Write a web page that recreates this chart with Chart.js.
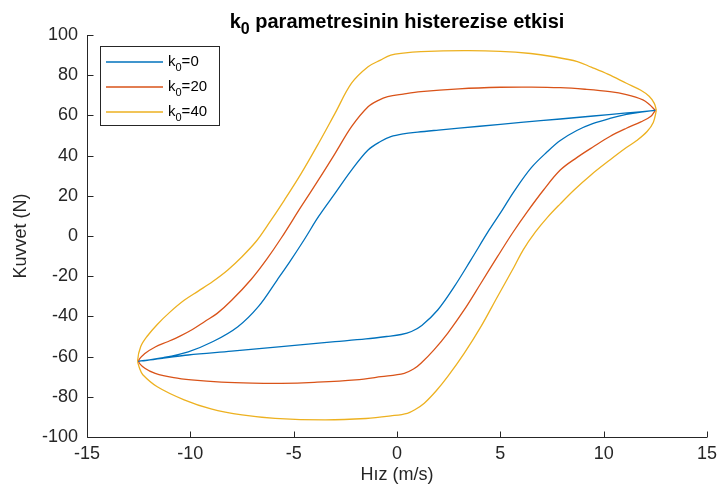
<!DOCTYPE html>
<html lang="tr">
<head>
    <meta charset="UTF-8">
    <title>k0 parametresinin histerezise etkisi</title>
    <script src="https://cdn.jsdelivr.net/npm/chart.js"></script>
    <style>
        body { margin: 0; background: #ffffff; }
        .chart-box { width: 717px; height: 493px; }
    </style>
</head>
<body>
    <div class="chart-box">
        <canvas id="hysteresisChart"></canvas>
    </div>

    <script>
        // Loop paths: right tip -> upper branch -> left tip -> lower branch
        const velK0 = [12.5, 11, 9.5, 7.9, 6, 4, 2, 1, 0.3, -0.3, -0.8, -1.4, -2.2, -3.0, -3.8, -4.5, -5.2, -5.8, -6.7, -7.7, -8.9, -10.1, -11.3, -12.5,
            -11.3, -10.1, -8, -5.6, -3, -1.5, -0.5, 0.2, 0.7, 1.2, 1.97, 2.77, 3.57, 4.46, 5.1, 5.65, 6.5, 7.28, 7.9, 8.7, 9.5, 10.3, 11.1, 11.8, 12.5];
        const forceK0 = [62.5, 61.1, 59.7, 58.2, 56.5, 54.6, 52.7, 51.7, 50.8, 49.4, 47.0, 42.8, 32.8, 21.2, 9.6, -2, -13, -21.9, -35, -45.1, -52.5, -57.6, -60.5, -62.3,
            -60.8, -59.2, -57.3, -55, -52.6, -51.2, -50, -49, -47.5, -44.5, -36.8, -25.2, -12, 3, 13, 22, 34, 42, 47.5, 52.5, 56, 58.5, 60.5, 61.6, 62.5];

        const velK20 = [12.5, 12.2, 11.9, 11.1, 10.3, 9.1, 7.9, 6.5, 5, 3, 1.16, 0.3, -0.45, -0.9, -1.4, -2.2, -3.0, -3.8, -4.64, -5.6, -6.3, -7.05, -8.0, -8.7, -9.3, -9.9, -10.5, -11.1, -11.7, -12.2, -12.5,
            -12.2, -11.7, -10.8, -9.95, -8.5, -7, -5.6, -4, -2, -0.77, 0.35, 0.8, 1.16, 1.8, 2.45, 3.25, 4.06, 4.86, 5.59, 6.3, 7.1, 7.9, 8.7, 9.5, 10.3, 11.1, 11.8, 12.27, 12.5];
        const forceK20 = [62.5, 65.5, 67.7, 70.3, 71.8, 73.0, 73.8, 74.1, 74.0, 73.2, 71.8, 70.6, 69.3, 67.5, 64.3, 54.4, 41, 27.9, 14.6, -1, -11.5, -21.5, -32, -38.5, -42.5, -46.5, -49.8, -52.6, -55.2, -58.5, -62.3,
            -65.8, -68.3, -70.5, -71.6, -72.7, -73.2, -73.3, -72.8, -71.6, -70, -68.3, -66.2, -63.3, -56.5, -48.4, -36.8, -23.5, -10.3, 1.5, 12, 23, 32.8, 39, 44.4, 49.5, 53.6, 56.8, 59.4, 62.5];

        const velK40 = [12.55, 12.45, 12.2, 11.8, 11.1, 10.2, 9.4, 8.73, 7.5, 6.47, 5, 3.24, 1.16, 0.3, -0.3, -0.8, -1.4, -2.2, -3.0, -3.8, -4.64, -5.44, -6.25, -6.8, -7.5, -8.2, -8.9, -9.6, -10.3, -11.0, -11.6, -12.1, -12.4, -12.55,
            -12.45, -12.3, -11.6, -10.3, -9.0, -7.5, -5.9, -3.5, -1.5, -0.3, 0.5, 0.9, 1.32, 1.9, 2.45, 3.25, 4.06, 4.86, 5.67, 6.1, 6.7, 7.3, 7.9, 8.57, 9.4, 10.3, 11.1, 11.6, 12.1, 12.4, 12.55];
        const forceK40 = [62.5, 66, 69.5, 72.5, 76, 80.5, 84, 86.8, 89.3, 90.8, 91.9, 92.2, 91.7, 91, 90, 87.5, 84.2, 76, 61, 46, 31, 18, 5.5, -2.5, -10.3, -17.0, -22.5, -27.3, -32, -38, -44, -50, -55, -62,
            -66, -69, -75, -81.5, -86, -89, -90.7, -91.5, -90.8, -89.5, -88.2, -86.2, -83.2, -77, -70, -58.4, -45.1, -30.2, -15.3, -7, 2, 9.5, 16, 22.9, 30.5, 37.8, 44, 47.5, 52, 56.5, 62.5];

        const seriesNames = ['0', '20', '40'];
        const seriesColors = ['#0072BD', '#D95319', '#EDB120'];
        const xTicks = [-15, -10, -5, 0, 5, 10, 15];
        const yTicks = [-100, -80, -60, -40, -20, 0, 20, 40, 60, 80, 100];

        const axisColor = '#262626';
        const fontFamily = '"Liberation Sans", Arial, sans-serif';

        function toPoints(xs, ys) {
            return xs.map((v, i) => ({ x: v, y: ys[i] }));
        }

        const loops = [
            toPoints(velK0, forceK0),
            toPoints(velK20, forceK20),
            toPoints(velK40, forceK40)
        ];

        // draw a run of text pieces, some lowered and smaller (subscripts)
        function drawPieces(ctx, pieces, x, y) {
            let cx = x;
            pieces.forEach(p => {
                ctx.font = p.font;
                ctx.fillText(p.text, cx, y + (p.dy || 0));
                cx += ctx.measureText(p.text).width;
            });
        }

        function piecesWidth(ctx, pieces) {
            let w = 0;
            pieces.forEach(p => {
                ctx.font = p.font;
                w += ctx.measureText(p.text).width;
            });
            return w;
        }

        // MATLAB-like axes: inward ticks, title and legend with subscripts
        const matlabDecor = {
            id: 'matlabDecor',
            afterDraw(chart) {
                const { ctx, chartArea: a, scales: { x, y } } = chart;
                ctx.save();

                ctx.strokeStyle = axisColor;
                ctx.lineWidth = 1;
                ctx.beginPath();
                const left = Math.round(a.left) + 0.5;
                const bottom = Math.round(a.bottom) + 0.5;
                ctx.moveTo(left, a.top);
                ctx.lineTo(left, bottom);
                ctx.lineTo(a.right, bottom);
                xTicks.forEach(v => {
                    const px = Math.round(x.getPixelForValue(v)) + 0.5;
                    ctx.moveTo(px, bottom);
                    ctx.lineTo(px, bottom - 6);
                });
                yTicks.forEach(v => {
                    const py = Math.round(y.getPixelForValue(v)) + 0.5;
                    ctx.moveTo(left, py);
                    ctx.lineTo(left + 6, py);
                });
                ctx.stroke();

                // title
                ctx.fillStyle = '#000000';
                ctx.textBaseline = 'alphabetic';
                ctx.textAlign = 'left';
                const titlePieces = [
                    { text: 'k', font: 'bold 20px ' + fontFamily },
                    { text: '0', font: 'bold 16px ' + fontFamily, dy: 6 },
                    { text: ' parametresinin histerezise etkisi', font: 'bold 20px ' + fontFamily }
                ];
                const tw = piecesWidth(ctx, titlePieces);
                drawPieces(ctx, titlePieces, (a.left + a.right) / 2 - tw / 2, 28);

                // legend box
                ctx.fillStyle = '#ffffff';
                ctx.fillRect(100.5, 46.5, 119, 79);
                ctx.strokeStyle = axisColor;
                ctx.lineWidth = 1;
                ctx.strokeRect(100.5, 46.5, 119, 79);
                seriesNames.forEach((name, i) => {
                    const ly = 62 + i * 25;
                    ctx.strokeStyle = seriesColors[i];
                    ctx.lineWidth = 1.3;
                    ctx.beginPath();
                    ctx.moveTo(106, ly);
                    ctx.lineTo(163, ly);
                    ctx.stroke();
                    ctx.fillStyle = '#000000';
                    drawPieces(ctx, [
                        { text: 'k', font: '15px ' + fontFamily },
                        { text: '0', font: '11px ' + fontFamily, dy: 5 },
                        { text: '=' + name, font: '15px ' + fontFamily }
                    ], 168, ly + 4);
                });

                ctx.restore();
            }
        };

        function initializeHysteresisChart() {
            const ctx = document.getElementById('hysteresisChart').getContext('2d');
            new Chart(ctx, {
                type: 'scatter',
                data: {
                    datasets: loops.map((pts, i) => ({
                        label: 'k0=' + seriesNames[i],
                        data: pts,
                        showLine: true,
                        borderColor: seriesColors[i],
                        backgroundColor: seriesColors[i],
                        borderWidth: 1.3,
                        pointRadius: 0,
                        tension: 0.35,
                        fill: false
                    }))
                },
                options: {
                    responsive: true,
                    maintainAspectRatio: false,
                    animation: false,
                    layout: {
                        padding: { top: 35, right: 10, left: 0, bottom: 0 }
                    },
                    plugins: {
                        legend: { display: false },
                        title: { display: false },
                        tooltip: { enabled: false }
                    },
                    scales: {
                        x: {
                            type: 'linear',
                            min: -15,
                            max: 15,
                            afterFit: scale => {
                                scale.height = 56;
                                scale.paddingLeft = 0;
                                scale.paddingRight = 0;
                            },
                            afterBuildTicks: scale => { scale.ticks = xTicks.map(v => ({ value: v })); },
                            grid: { display: false, drawTicks: false },
                            border: { display: false },
                            ticks: {
                                color: axisColor,
                                padding: 6,
                                maxRotation: 0,
                                font: { family: fontFamily, size: 18 }
                            },
                            title: {
                                display: true,
                                text: 'Hız (m/s)',
                                color: axisColor,
                                padding: { top: 0, bottom: 7 },
                                font: { family: fontFamily, size: 18 }
                            }
                        },
                        y: {
                            type: 'linear',
                            min: -100,
                            max: 100,
                            afterFit: scale => { scale.width = 87; },
                            afterBuildTicks: scale => { scale.ticks = yTicks.map(v => ({ value: v })); },
                            grid: { display: false, drawTicks: false },
                            border: { display: false },
                            ticks: {
                                color: axisColor,
                                padding: 9,
                                font: { family: fontFamily, size: 18 }
                            },
                            title: {
                                display: true,
                                text: 'Kuvvet (N)',
                                color: axisColor,
                                padding: { top: 10, bottom: 0 },
                                font: { family: fontFamily, size: 18 }
                            }
                        }
                    }
                },
                plugins: [matlabDecor]
            });
        }

        initializeHysteresisChart();
    </script>
</body>
</html>
